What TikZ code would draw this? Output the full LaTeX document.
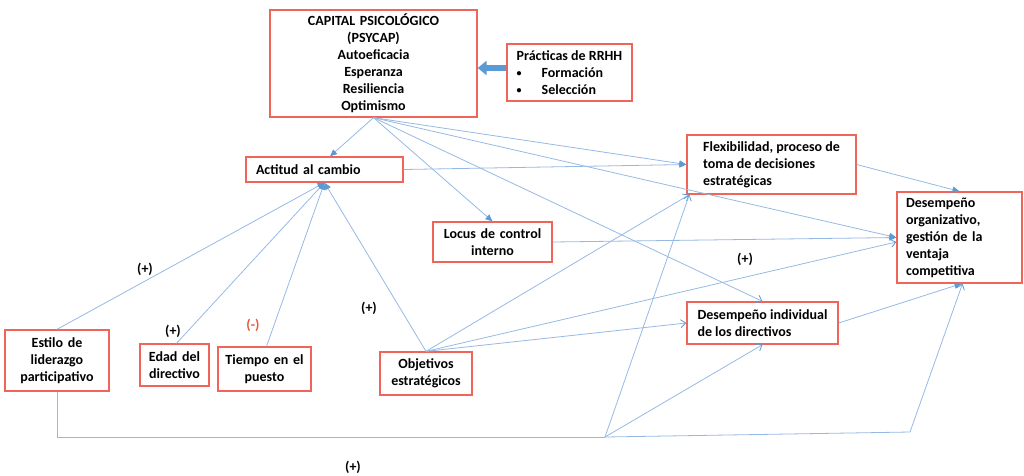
\documentclass[tikz,border=0pt]{standalone}
\usepackage{fontspec}
\setmainfont{Carlito}
\usetikzlibrary{arrows.meta}
\definecolor{boxred}{RGB}{240,100,90}
\definecolor{lineblue}{RGB}{150,185,228}
\definecolor{tipblue}{RGB}{91,155,213}
\definecolor{minusred}{RGB}{235,85,60}
\tikzset{
  box/.style={draw=boxred, line width=1.3pt, fill=white, inner ysep=0pt,
    font=\fontsize{14}{17}\selectfont\bfseries},
  boxc/.style={box, align=center, inner xsep=2pt},
  boxl/.style={box, align=left, inner xsep=10pt},
  boxm/.style={box, align=left, inner xsep=0pt},
  conn/.style={draw=lineblue, line width=0.8pt},
  tipF/.style={-{Triangle[length=7pt,width=6pt,color=tipblue]}},
  tipO/.style={-{Straight Barb[length=5pt,width=8pt,color=tipblue]}},
  lbl/.style={font=\fontsize{14}{17}\selectfont\bfseries, inner sep=0pt},
}
\newcommand{\smbul}{\makebox[25pt][l]{\raisebox{0.5pt}{\fontsize{10}{10}\selectfont\textbullet}}}
\begin{document}
\begin{tikzpicture}[x=1pt,y=-1pt]
\useasboundingbox (0,0) rectangle (1024,475);
% boxes
\node[boxc, text width=203pt, minimum height=107pt] (psy) at (373.5,63.5)
  {CAPITAL PSICOLÓGICO\\(PSYCAP)\\Autoeficacia\\Esperanza\\Resiliencia\\Optimismo};
\node[boxm, minimum width=125pt, minimum height=57pt] (rrhh) at (569.5,72.5)
  {Prácticas de RRHH\\\smbul Formación\\\smbul Selección};
\node[boxl, text width=137pt, minimum height=25pt] (act) at (324.5,169.5) {Actitud al cambio};
\node[boxc, text width=115pt, minimum height=40pt] (loc) at (492.5,242) {Locus de control\\interno};
\node[boxm, minimum width=169pt, minimum height=59pt] (flex) at (771.5,164.5)
  {Flexibilidad,\ proceso de\\toma de decisiones\\estratégicas};
\node[boxl, inner xsep=9pt, text width=107pt, minimum height=91pt] (dorg) at (959.5,237.5)
  {Desempeño\\organizativo,\\gestión de la\\ventaja\\competitiva};
\node[boxm, minimum width=151pt, minimum height=42pt] (dind) at (762.5,323)
  {Desempeño individual\\de los directivos};
\node[boxc, text width=100pt, minimum height=61pt] (est) at (57,360.5)
  {Estilo de\\liderazgo\\participativo};
\node[boxc, text width=65pt, minimum height=42pt] (edad) at (174.5,365) {Edad del\\directivo};
\node[boxc, text width=89pt, minimum height=44pt] (tiem) at (264.5,369) {Tiempo en el\\puesto};
\node[boxc, text width=88pt, minimum height=43pt] (obj) at (426,373.5) {Objetivos\\estratégicos};
% block arrow
\draw[line width=6pt, draw=tipblue, -{Triangle[length=9pt,width=14pt]}]
  ([yshift=4.5pt]rrhh.west) -- ([yshift=4.5pt]rrhh.west -| psy.east);
% connectors from PSYCAP
\draw[conn, tipF] (psy.south) -- ([xshift=5.5pt]act.north);
\draw[conn, tipF] (psy.south) -- (loc.north);
\draw[conn, tipF] (psy.south) -- (flex.west);
\draw[conn, tipF] (psy.south) -- (dorg.west);
\draw[conn, tipO] (psy.south) -- (dind.north);
% other connectors
\draw[conn, tipF] (act.east) -- (flex.west);
\draw[conn, tipF] (loc.east) -- (dorg.west);
\draw[conn, tipF] (flex.east) -- (dorg.north);
\draw[conn, tipF] (dind.east) -- ([xshift=2pt]dorg.south);
\draw[conn, tipF] (est.north) -- (act.south);
\draw[conn, tipF] ([xshift=2pt]edad.north) -- (act.south);
\draw[conn, tipF] ([xshift=2pt]tiem.north) -- (act.south);
\draw[conn, tipF] (obj.north) -- (act.south);
\draw[conn, tipO] (obj.north) -- ([xshift=3pt]flex.south west);
\draw[conn, tipO] (obj.north) -- ([yshift=-4.5pt]dorg.west);
\draw[conn, tipO] (obj.north) -- (dind.west);
% bottom path
\coordinate (j) at (605,437);
\coordinate (k) at (910,432);
\draw[conn] (est.south) -- (est.south |- j) -- (j);
\draw[conn, tipO] (j) -- ([xshift=3pt]flex.south west);
\draw[conn, tipO] (j) -- (dind.south);
\draw[conn, tipO] (j) -- (k) -- ([xshift=3pt]dorg.south);
% labels
\node[lbl] (l1) at (145,269) {(+)};
\node[lbl] (l2) at (173,331) {(+)};
\node[lbl, text=minusred] (l3) at (253,325) {(-)};
\node[lbl] (l4) at (369,308) {(+)};
\node[lbl] (l5) at (745,259) {(+)};
\node[lbl] (l6) at (353,467) {(+)};
\end{tikzpicture}
\end{document}
